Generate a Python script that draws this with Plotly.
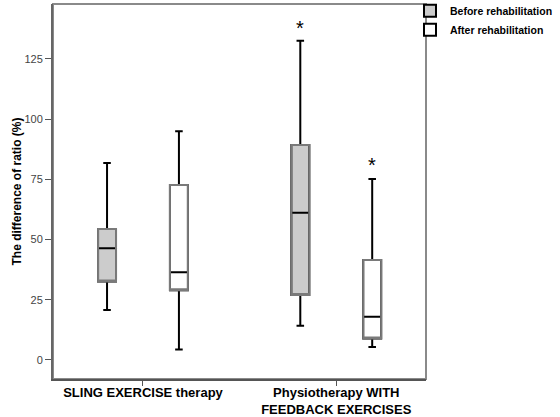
import plotly.graph_objects as go

categories = ["SLING EXERCISE therapy", "Physiotherapy WITH<br>FEEDBACK EXERCISES"]
series_names = ["Before rehabilitation", "After rehabilitation"]

# five-number summaries per series, one value per category
before_low = [20.7, 14.2]
before_q1 = [32.6, 27.0]
before_median = [46.4, 61.1]
before_q3 = [54.4, 89.3]
before_high = [81.8, 132.5]
before_extreme = [None, 138.5]

after_low = [4.4, 5.4]
after_q1 = [29.0, 8.9]
after_median = [36.4, 17.9]
after_q3 = [72.6, 41.5]
after_high = [95.0, 75.1]
after_extreme = [None, 81.7]

y_ticks = [0, 25, 50, 75, 100, 125]

FONT = "Arial, Liberation Sans, sans-serif"
cat_idx = list(range(len(categories)))
offset = 0.186
bw = 0.093

series = [
    dict(name=series_names[0], low=before_low, q1=before_q1, med=before_median,
         q3=before_q3, high=before_high, ext=before_extreme, fill="#cccccc", off=-offset),
    dict(name=series_names[1], low=after_low, q1=after_q1, med=after_median,
         q3=after_q3, high=after_high, ext=after_extreme, fill="#ffffff", off=offset),
]

fig = go.Figure()
annotations = []
for s in series:
    xs = [i + s["off"] for i in cat_idx]
    # main box: whiskers, median (black)
    fig.add_trace(go.Box(
        name=s["name"], legendgroup=s["name"], x=xs,
        q1=s["q1"], median=s["med"], q3=s["q3"],
        lowerfence=s["low"], upperfence=s["high"],
        width=bw, whiskerwidth=0.42,
        fillcolor=s["fill"], line=dict(color="#000000", width=2),
        boxpoints=False, hoverinfo="skip",
    ))
    # gray outline of the box body drawn on top
    fig.add_trace(go.Box(
        name=s["name"], legendgroup=s["name"], showlegend=False, x=xs,
        q1=s["q1"], median=s["q1"], q3=s["q3"],
        lowerfence=s["q1"], upperfence=s["q3"],
        width=bw, whiskerwidth=0,
        fillcolor="rgba(0,0,0,0)", line=dict(color="#7a7a7a", width=2),
        boxpoints=False, hoverinfo="skip",
    ))
    # extreme values shown as asterisks
    for x, v in zip(xs, s["ext"]):
        if v is not None:
            annotations.append(dict(
                x=x, y=v, xref="x", yref="y", text="*", showarrow=False,
                yshift=-2, font=dict(family=FONT, size=20, color="#000000"),
            ))

fig.update_layout(
    width=560, height=417,
    margin=dict(l=53, r=134, t=4, b=38, autoexpand=False),
    paper_bgcolor="white", plot_bgcolor="white",
    font=dict(family=FONT, color="#000000"),
    showlegend=True,
    legend=dict(
        x=(410 - 53) / 373, xanchor="left", y=1.021, yanchor="top",
        font=dict(family=FONT, size=10.5, color="#000000", weight="bold"),
        bgcolor="rgba(0,0,0,0)", itemwidth=30, tracegroupgap=0,
        borderwidth=0,
    ),
    xaxis=dict(
        range=[-0.4656, 1.4644], tickvals=cat_idx, ticktext=categories,
        showline=True, linecolor="#555555", linewidth=2, mirror=False,
        ticks="outside", ticklen=5, tickcolor="#555555",
        ticklabelstandoff=-5,
        tickfont=dict(family=FONT, size=13, color="#000000", weight="bold"),
        showgrid=False, zeroline=False, automargin=False,
    ),
    yaxis=dict(
        range=[-7.9, 147.8], tickvals=y_ticks,
        showline=True, linecolor="#666666", linewidth=2,
        ticks="outside", ticklen=6, tickcolor="#555555",
        tickfont=dict(family=FONT, size=11, color="#444444"),
        showgrid=False, zeroline=False, automargin=False,
        title=dict(text="The difference of ratio (%)", standoff=0,
                   font=dict(family=FONT, size=12, color="#000000", weight="bold")),
    ),
    annotations=annotations,
    shapes=[dict(type="rect", xref="paper", yref="paper", x0=0, y0=0, x1=1, y1=1,
                 line=dict(color="#8a8a8a", width=2), layer="below")],
)

fig.write_html(
    "out.html",
    config={"displayModeBar": False},
    post_script="document.body.style.margin='0';document.body.style.padding='0';",
)
